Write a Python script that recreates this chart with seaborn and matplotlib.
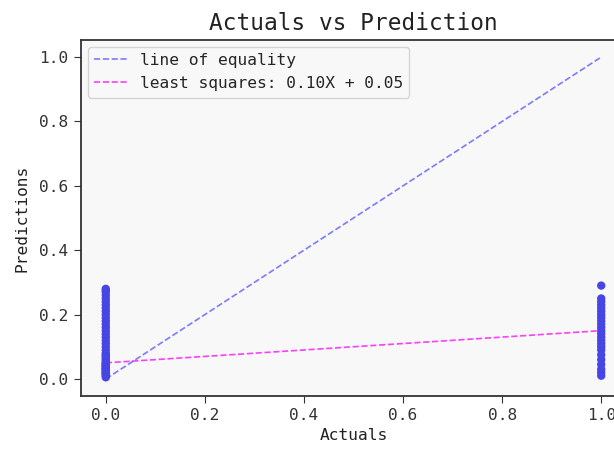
import numpy as np
import pandas as pd
import matplotlib
matplotlib.use("Agg")
import matplotlib.pyplot as plt
import seaborn as sns

# ---- data ----
preds_actual0 = [0.005, 0.01, 0.012, 0.015, 0.018, 0.02, 0.022, 0.025, 0.028, 0.03,
                 0.032, 0.035, 0.038, 0.04, 0.042, 0.045, 0.048, 0.05, 0.055, 0.06,
                 0.065, 0.07, 0.075, 0.08, 0.09, 0.1, 0.11, 0.12, 0.13, 0.14,
                 0.15, 0.16, 0.17, 0.18, 0.19, 0.2, 0.21, 0.22, 0.23, 0.24,
                 0.25, 0.26, 0.27, 0.275, 0.28]
preds_actual1 = [0.01, 0.02, 0.03, 0.045, 0.06, 0.075, 0.09, 0.1, 0.11, 0.12,
                 0.13, 0.14, 0.15, 0.16, 0.17, 0.18, 0.19, 0.2, 0.21, 0.22,
                 0.23, 0.24, 0.25, 0.29]
fit_slope = 0.10
fit_intercept = 0.05
equality_x = [0.0, 1.0]

title = "Actuals vs Prediction"
xlabel = "Actuals"
ylabel = "Predictions"

sns.set_style("ticks")
plt.rcParams["font.family"] = ["DejaVu Sans Mono", "DejaVu Sans"]

df = pd.DataFrame({
    "Actuals": [0.0] * len(preds_actual0) + [1.0] * len(preds_actual1),
    "Predictions": preds_actual0 + preds_actual1,
})

W, H = 614, 451
fig = plt.figure(figsize=(W / 100, H / 100), dpi=100)
fig.patch.set_facecolor("white")
ax = fig.add_axes([81 / W, 55 / H, (626 - 81) / W, (396 - 40) / H])
ax.set_facecolor("#f8f8f8")

sns.scatterplot(data=df, x="Actuals", y="Predictions", ax=ax,
                color="#4646e6", s=36, edgecolor="none", linewidth=0, zorder=3)

eq = np.array(equality_x)
sns.lineplot(x=eq, y=eq, ax=ax, color="blue", alpha=0.5, linestyle="--",
             linewidth=1.2, label="line of equality", zorder=2)
sns.lineplot(x=eq, y=fit_slope * eq + fit_intercept, ax=ax, color="magenta",
             alpha=0.75, linestyle="--", linewidth=1.2,
             label=f"least squares: {fit_slope:.2f}X + {fit_intercept:.2f}", zorder=2)

ax.set_xlim(-0.05, 1.05)
ax.set_ylim(-0.053, 1.053)
ax.set_xticks([0, 0.2, 0.4, 0.6, 0.8, 1.0])
ax.set_yticks([0, 0.2, 0.4, 0.6, 0.8, 1.0])
ax.tick_params(labelsize=11.7, colors="#333333", length=5, pad=4)
for sp in ax.spines.values():
    sp.set_color("#333333")
    sp.set_linewidth(1.3)
ax.set_title(title, fontsize=16.4, color="#222222", pad=7)
ax.set_xlabel(xlabel, fontsize=11.7, color="#222222", labelpad=3)
ax.set_ylabel(ylabel, fontsize=11.7, color="#222222", labelpad=7)
leg = ax.legend(loc="upper left", fontsize=11.7, frameon=True,
                borderaxespad=0.4, handlelength=2.0)
leg.get_frame().set_facecolor("#f8f8f8")

fig.savefig("out.png", dpi=100)
